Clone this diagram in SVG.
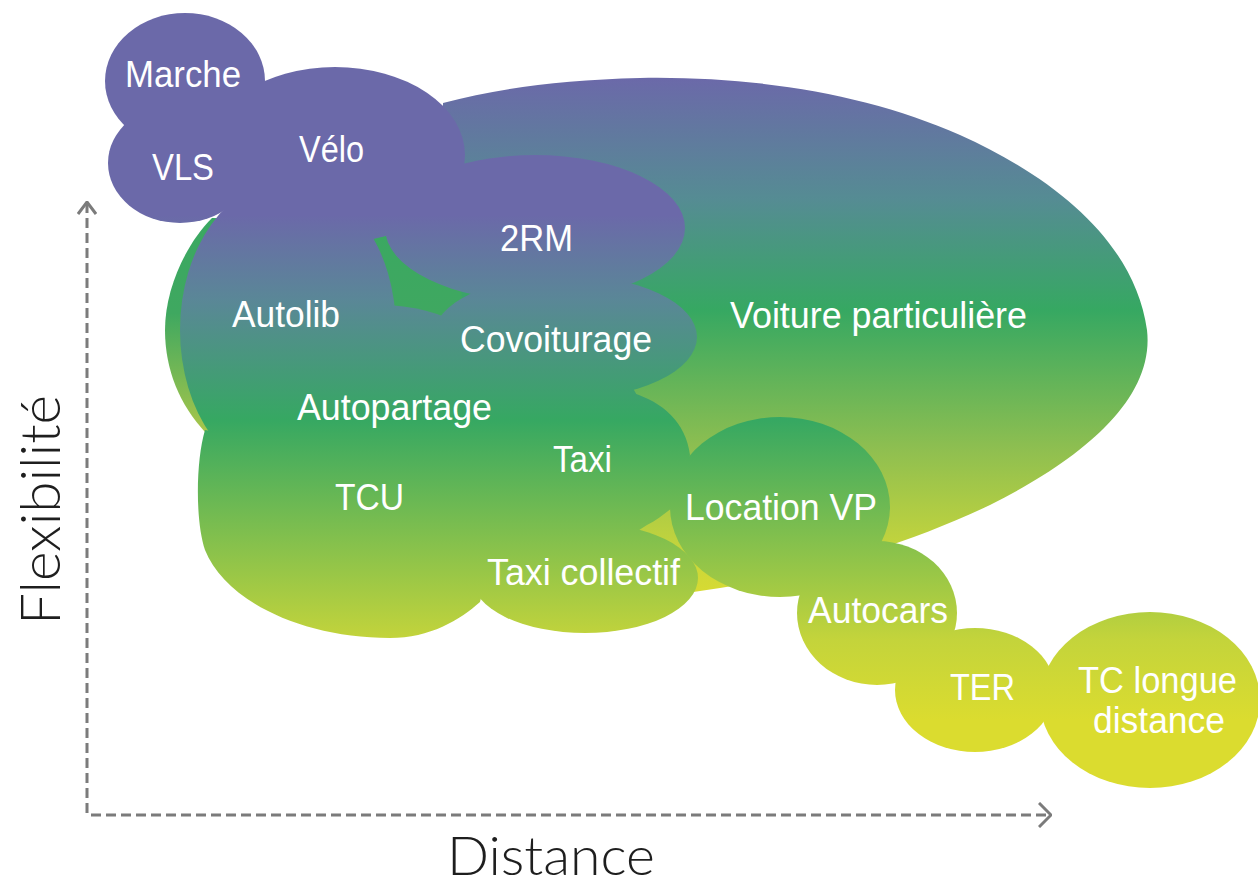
<svg xmlns="http://www.w3.org/2000/svg" width="1258" height="888" viewBox="0 0 1258 888">
<defs>
<linearGradient id="gMain" gradientUnits="userSpaceOnUse" x1="0" y1="215" x2="0" y2="720">
<stop offset="0" stop-color="#6b69a9"/>
<stop offset="0.168" stop-color="#5a8797"/>
<stop offset="0.406" stop-color="#36a862"/>
<stop offset="0.842" stop-color="#c4d43b"/>
<stop offset="1" stop-color="#dbdc2f"/>
</linearGradient>
<linearGradient id="gBig" gradientUnits="userSpaceOnUse" x1="0" y1="78" x2="0" y2="590">
<stop offset="0" stop-color="#6b69a9"/>
<stop offset="0.238" stop-color="#558c93"/>
<stop offset="0.453" stop-color="#36a862"/>
<stop offset="0.727" stop-color="#8fbf50"/>
<stop offset="0.941" stop-color="#cad73a"/>
<stop offset="1" stop-color="#d6da33"/>
</linearGradient>
<linearGradient id="gBack" gradientUnits="userSpaceOnUse" x1="0" y1="216" x2="0" y2="432">
<stop offset="0" stop-color="#3aa862"/>
<stop offset="0.45" stop-color="#3fa860"/>
<stop offset="1" stop-color="#a8c64a"/>
</linearGradient>
<marker id="chevUp" viewBox="0 0 14 20" refX="13" refY="10" markerWidth="14" markerHeight="20" markerUnits="userSpaceOnUse" orient="auto">
<path d="M1,1 L13,10 L1,19" fill="none" stroke="#7b7b7b" stroke-width="3" stroke-dasharray="none"/>
</marker>
<marker id="chevRight" viewBox="0 0 14 26" refX="13" refY="13" markerWidth="14" markerHeight="26" markerUnits="userSpaceOnUse" orient="auto">
<path d="M1,1 L13,13 L1,25" fill="none" stroke="#7b7b7b" stroke-width="3" stroke-dasharray="none"/>
</marker>
</defs>
<style>
.blob { fill: url(#gMain); }
.lbl { fill: #ffffff; font-family: "Liberation Sans", Arial, sans-serif; font-size: 36px; }
.axis { fill: none; stroke: #7b7b7b; stroke-width: 3; stroke-dasharray: 10 5; }
.axlbl { fill: #1e1e1e; font-family: Lato, "Liberation Sans", sans-serif; font-weight: 300; }
</style>
<rect width="1258" height="888" fill="#ffffff"/>

<g id="node-voiture">
<path fill="url(#gBig)" d="M443,103 C500,88 560,80 640,78 C760,76 870,95 960,135 C1060,180 1135,245 1147,330 C1155,400 1080,460 990,505 C900,548 800,575 720,588 L640,600 L600,520 L440,300 Z"/>
<text class="lbl" x="730" y="328" textLength="297" lengthAdjust="spacingAndGlyphs">Voiture particulière</text>
</g>

<g id="backdrop">
<path fill="url(#gBack)" d="M212,218 C185,245 165,290 165,330 C165,370 180,405 205,432 L455,432 L462,300 L455,222 Z"/>
</g>

<g id="node-velo">
<ellipse class="blob" cx="335" cy="155" rx="130" ry="88"/>
<text class="lbl" x="299" y="162" textLength="65" lengthAdjust="spacingAndGlyphs">Vélo</text>
</g>
<g id="node-marche">
<ellipse class="blob" cx="185" cy="81" rx="80" ry="68"/>
<text class="lbl" x="125" y="87" textLength="116" lengthAdjust="spacingAndGlyphs">Marche</text>
</g>
<g id="node-vls">
<ellipse class="blob" cx="180" cy="163" rx="72" ry="60"/>
<text class="lbl" x="152" y="180" textLength="62" lengthAdjust="spacingAndGlyphs">VLS</text>
</g>
<g id="node-2rm">
<ellipse class="blob" cx="535" cy="228" rx="150" ry="73"/>
<text class="lbl" x="500" y="251" textLength="73" lengthAdjust="spacingAndGlyphs">2RM</text>
</g>
<g id="node-autolib">
<ellipse class="blob" cx="288" cy="330" rx="108" ry="150"/>
<ellipse class="blob" cx="380" cy="380" rx="120" ry="75"/>
<text class="lbl" x="232" y="327" textLength="108" lengthAdjust="spacingAndGlyphs">Autolib</text>
</g>
<g id="node-autopartage">
<ellipse class="blob" cx="430" cy="410" rx="210" ry="85"/>
<text class="lbl" x="297" y="420" textLength="195" lengthAdjust="spacingAndGlyphs">Autopartage</text>
</g>
<g id="node-covoiturage">
<ellipse class="blob" cx="565" cy="337" rx="132" ry="62"/>
<text class="lbl" x="460" y="352" textLength="192" lengthAdjust="spacingAndGlyphs">Covoiturage</text>
</g>
<g id="node-tcu">
<path class="blob" d="M205,430 C196,460 195,520 205,550 C225,600 300,638 390,638 C430,638 460,620 480,602 L520,440 L250,438 Z"/>
<text class="lbl" x="335" y="510" textLength="69" lengthAdjust="spacingAndGlyphs">TCU</text>
</g>
<g id="node-taxi">
<path class="blob" d="M633,393 C662,402 686,422 690,455 L672,508 C663,515 655,521 647,525 L600,555 L470,555 L470,470 L600,400 Z"/>
<text class="lbl" x="553" y="472" textLength="59" lengthAdjust="spacingAndGlyphs">Taxi</text>
</g>
<g id="node-taxi-collectif">
<ellipse class="blob" cx="585" cy="578" rx="113" ry="55"/>
<text class="lbl" x="487" y="585" textLength="193" lengthAdjust="spacingAndGlyphs">Taxi collectif</text>
</g>
<g id="node-location-vp">
<ellipse class="blob" cx="780" cy="507" rx="110" ry="90"/>
<text class="lbl" x="685" y="520" textLength="192" lengthAdjust="spacingAndGlyphs">Location VP</text>
</g>
<g id="node-autocars">
<ellipse class="blob" cx="877" cy="613" rx="80" ry="72"/>
<text class="lbl" x="808" y="623" textLength="140" lengthAdjust="spacingAndGlyphs">Autocars</text>
</g>
<g id="node-ter">
<ellipse class="blob" cx="975" cy="690" rx="80" ry="62"/>
<text class="lbl" x="950" y="700" textLength="65" lengthAdjust="spacingAndGlyphs">TER</text>
</g>
<g id="node-tc-longue-distance">
<ellipse class="blob" cx="1150" cy="700" rx="110" ry="88"/>
<text class="lbl" x="1078" y="693" textLength="159" lengthAdjust="spacingAndGlyphs">TC longue</text>
<text class="lbl" x="1093" y="733" textLength="132" lengthAdjust="spacingAndGlyphs">distance</text>
</g>

<g id="connectors">
<line class="axis" x1="87" y1="813" x2="87" y2="202" marker-end="url(#chevUp)"/>
<line class="axis" x1="91" y1="815" x2="1051" y2="815" marker-end="url(#chevRight)"/>
</g>

<g id="axis-labels">
<text class="axlbl" font-size="55" transform="translate(60,625) rotate(-90)" x="0" y="0" textLength="230" lengthAdjust="spacingAndGlyphs">Flexibilité</text>
<text class="axlbl" font-size="54" x="447" y="875" textLength="208" lengthAdjust="spacingAndGlyphs">Distance</text>
</g>
</svg>
